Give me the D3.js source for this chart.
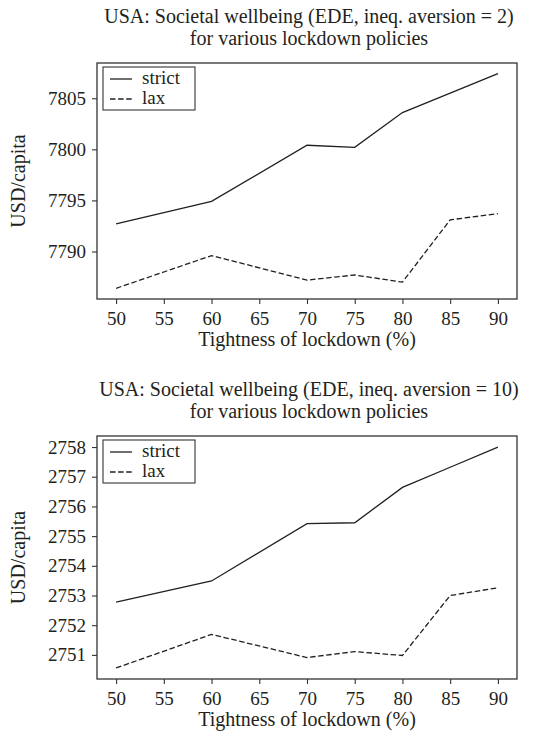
<!DOCTYPE html>
<html>
<head>
<meta charset="utf-8">
<script src="https://cdn.jsdelivr.net/npm/d3@7"></script>
<style>
  body { margin: 0; background: #fff; }
  svg text { font-family: "Liberation Serif", "DejaVu Serif", serif; fill: #231f20; }
</style>
</head>
<body>
<div id="chart"></div>
<script>
// lockdown tightness (%)
const tightness = [50, 60, 70, 75, 80, 85, 90];
const xTicks = [50, 55, 60, 65, 70, 75, 80, 85, 90];

// panel 1: inequality aversion = 2
const strict2 = [7792.7, 7794.9, 7800.4, 7800.2, 7803.6, 7805.5, 7807.4];
const lax2 = [7786.4, 7789.6, 7787.2, 7787.7, 7787.0, 7793.1, 7793.7];
const yTicks2 = [7790, 7795, 7800, 7805];

// panel 2: inequality aversion = 10
const strict10 = [2752.78, 2753.49, 2755.42, 2755.45, 2756.64, 2757.32, 2758.0];
const lax10 = [2750.56, 2751.69, 2750.91, 2751.11, 2750.98, 2753.0, 2753.26];
const yTicks10 = [2751, 2752, 2753, 2754, 2755, 2756, 2757, 2758];

const titles = [
    ["USA: Societal wellbeing (EDE, ineq. aversion = 2)", "for various lockdown policies"],
    ["USA: Societal wellbeing (EDE, ineq. aversion = 10)", "for various lockdown policies"]
];

const W = 535, H = 738;
const svg = d3.select('#chart').append('svg')
    .attr('width', W)
    .attr('height', H);

const fontSize = 20;
const tickFont = 19;

function drawPanel(top, height, strict, lax, yTicks, title) {
    const left = 97, width = 420;
    const g = svg.append('g').attr('transform', `translate(${left}, ${top})`);

    // matplotlib-style 5% margins
    const xScale = d3.scaleLinear()
        .domain([48, 92])
        .range([0, width]);
    const all = strict.concat(lax);
    const lo = d3.min(all), hi = d3.max(all), pad = (hi - lo) * 0.05;
    const yScale = d3.scaleLinear()
        .domain([lo - pad, hi + pad])
        .range([height, 0]);

    const xAxis = d3.axisBottom(xScale).tickValues(xTicks).tickSize(5).tickPadding(8).tickFormat(d3.format('d'));
    const yAxis = d3.axisLeft(yScale).tickValues(yTicks).tickSize(5).tickPadding(6).tickFormat(d3.format('d'));

    const xg = g.append('g')
        .attr('transform', `translate(0, ${height})`)
        .call(xAxis);
    const yg = g.append('g').call(yAxis);
    [xg, yg].forEach(a => {
        a.attr('font-family', null);
        a.select('.domain').remove();
        a.selectAll('line').attr('stroke', '#333').attr('stroke-width', 1.1);
        a.selectAll('text').attr('font-size', tickFont).attr('fill', '#231f20');
    });

    const line = d3.line()
        .x((d, i) => xScale(tightness[i]))
        .y(d => yScale(d));

    g.append('path').datum(strict)
        .attr('d', line)
        .attr('fill', 'none')
        .attr('stroke', '#231f20')
        .attr('stroke-width', 1.3);
    g.append('path').datum(lax)
        .attr('d', line)
        .attr('fill', 'none')
        .attr('stroke', '#231f20')
        .attr('stroke-width', 1.3)
        .attr('stroke-dasharray', '5.5,2.6');

    // frame
    g.append('rect')
        .attr('width', width)
        .attr('height', height)
        .attr('fill', 'none')
        .attr('stroke', '#333')
        .attr('stroke-width', 1.3);

    // legend
    const lg = g.append('g').attr('transform', 'translate(6, 4)');
    lg.append('rect')
        .attr('width', 92).attr('height', 43)
        .attr('fill', '#fff')
        .attr('stroke', '#333')
        .attr('stroke-width', 1.1);
    [['strict', null], ['lax', '5.5,2.6']].forEach(([name, dash], i) => {
        const yy = 12 + i * 20;
        lg.append('line')
            .attr('x1', 7).attr('x2', 29)
            .attr('y1', yy).attr('y2', yy)
            .attr('stroke', '#231f20')
            .attr('stroke-width', 1.3)
            .attr('stroke-dasharray', dash);
        lg.append('text')
            .attr('x', 39).attr('y', yy + 5)
            .attr('font-size', 19)
            .text(name);
    });

    // title
    g.append('text')
        .attr('text-anchor', 'middle')
        .attr('x', width / 2 + 2).attr('y', -40)
        .attr('font-size', fontSize)
        .text(title[0]);
    g.append('text')
        .attr('text-anchor', 'middle')
        .attr('x', width / 2 + 2).attr('y', -18)
        .attr('font-size', fontSize)
        .text(title[1]);

    // x axis label
    g.append('text')
        .attr('text-anchor', 'middle')
        .attr('x', width / 2).attr('y', height + 47)
        .attr('font-size', fontSize)
        .text('Tightness of lockdown (%)');

    // y axis label
    g.append('text')
        .attr('text-anchor', 'middle')
        .attr('transform', 'rotate(-90)')
        .attr('x', -height / 2)
        .attr('y', -left + 25)
        .attr('font-size', fontSize)
        .text('USD/capita');
}

drawPanel(63, 236, strict2, lax2, yTicks2, titles[0]);
drawPanel(436, 243, strict10, lax10, yTicks10, titles[1]);
</script>
</body>
</html>
